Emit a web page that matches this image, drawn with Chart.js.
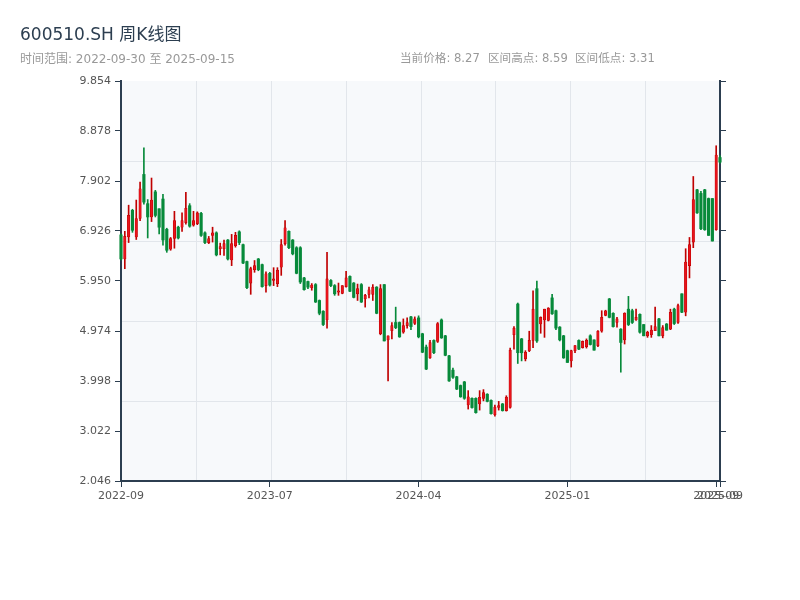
<!DOCTYPE html>
<html><head><meta charset="utf-8">
<script src="https://cdn.jsdelivr.net/npm/chart.js@4.4.0/dist/chart.umd.min.js"></script>
<style>
html,body{margin:0;padding:0;background:#fff;}
#wrap{position:relative;width:800px;height:600px;overflow:hidden;}
canvas{position:absolute;left:0;top:0;}
.t{position:absolute;font-family:"DejaVu Sans","Noto Sans CJK SC",sans-serif;white-space:nowrap;line-height:1;}
.s{font-size:11.6px;color:#999;top:53px;}
</style></head><body>
<div id="wrap">
<canvas id="c" width="800" height="600"></canvas>
<div class="t" style="left:20px;top:26px;font-size:17px;color:#2c3e50;">600510.SH 周K线图</div>
<div class="t" style="left:20px;top:53px;font-size:12px;color:#999;">时间范围: 2022-09-30 至 2025-09-15</div>
<div class="t s" style="left:400px;">当前价格: 8.27</div>
<div class="t s" style="left:488px;">区间高点: 8.59</div>
<div class="t s" style="left:575px;">区间低点: 3.31</div>
</div>
<script>
// weekly OHLC values
const open  = [6.85,6.38,6.81,7.33,6.81,7.17,8.03,7.46,7.20,7.69,7.36,7.55,6.96,6.57,6.78,7.00,7.00,7.09,7.42,7.04,7.07,7.27,6.89,6.70,6.84,6.89,6.58,6.58,6.75,6.36,6.64,6.91,6.66,6.33,5.91,6.17,6.38,6.27,5.86,6.10,5.96,5.90,6.22,6.68,6.92,6.75,6.60,6.60,6.01,5.94,5.82,5.88,5.57,5.36,5.19,5.96,5.86,5.73,5.71,5.84,6.04,5.91,5.70,5.88,5.60,5.69,5.69,5.83,4.92,5.88,4.80,4.98,5.14,5.14,4.95,5.08,5.25,5.12,5.23,4.92,4.66,4.45,4.79,4.77,5.19,4.88,4.49,4.21,4.08,3.91,3.98,3.53,3.66,3.66,3.55,3.66,3.74,3.62,3.34,3.48,3.55,3.42,3.48,4.90,5.50,4.82,4.43,4.59,4.79,5.80,5.11,5.19,5.18,5.62,5.37,5.05,4.88,4.59,4.39,4.59,4.79,4.65,4.67,4.88,4.80,4.69,4.97,5.28,5.60,5.32,5.14,5.01,4.80,5.40,5.37,5.19,5.30,5.10,4.88,4.90,4.98,5.21,4.88,5.11,5.01,5.40,5.14,5.70,5.34,6.25,6.71,7.73,7.66,7.73,7.56,7.56,6.95,8.36];
const high  = [6.87,6.92,7.43,7.35,7.53,7.88,8.55,7.54,7.96,7.72,7.36,7.64,6.98,6.80,7.31,7.02,7.28,7.68,7.46,7.31,7.30,7.29,6.91,6.82,7.00,6.91,6.69,6.75,6.76,6.86,6.90,6.93,6.67,6.34,6.22,6.35,6.39,6.28,6.13,6.12,6.21,6.21,6.76,7.13,6.93,6.76,6.62,6.62,6.02,5.95,5.90,5.90,5.58,5.37,6.51,5.98,5.88,5.91,5.86,6.14,6.05,5.92,5.89,5.90,5.69,5.83,5.88,5.84,5.88,5.88,4.88,5.14,5.44,5.15,5.21,5.23,5.26,5.25,5.27,4.93,4.70,4.79,4.80,5.14,5.21,4.89,4.50,4.25,4.09,3.92,3.99,3.81,3.67,3.67,3.81,3.83,3.75,3.63,3.53,3.60,3.56,3.71,4.64,5.06,5.52,4.83,4.59,4.97,5.76,5.95,5.25,5.40,5.43,5.69,5.38,5.06,4.89,4.60,4.60,4.69,4.80,4.78,4.82,4.90,4.80,4.98,5.37,5.38,5.61,5.33,5.24,5.02,5.33,5.65,5.40,5.40,5.31,5.10,4.97,5.08,5.44,5.22,5.08,5.12,5.40,5.42,5.50,5.70,6.58,6.80,7.99,7.74,7.70,7.74,7.57,7.56,8.59,8.40];
const low   = [6.36,6.19,6.70,6.90,6.76,7.13,7.45,6.79,7.11,7.20,6.87,6.65,6.51,6.55,6.59,6.77,6.92,7.06,7.00,7.02,7.05,6.82,6.68,6.68,6.71,6.44,6.46,6.45,6.36,6.25,6.61,6.66,6.29,5.80,5.69,6.12,6.15,5.83,5.73,5.85,5.86,5.84,6.06,6.65,6.58,6.46,6.09,5.90,5.77,5.80,5.77,5.53,5.29,5.08,5.03,5.84,5.67,5.67,5.70,5.83,5.74,5.62,5.57,5.53,5.44,5.62,5.57,5.31,4.90,4.78,4.00,4.82,5.02,4.85,4.93,5.03,5.00,5.10,4.84,4.55,4.22,4.44,4.53,4.75,4.83,4.49,3.99,4.05,3.83,3.68,3.64,3.45,3.47,3.37,3.43,3.61,3.59,3.35,3.31,3.43,3.41,3.41,3.47,4.62,4.34,4.39,4.39,4.57,4.65,4.75,4.93,4.85,5.17,5.30,5.00,4.78,4.44,4.36,4.27,4.55,4.61,4.64,4.64,4.70,4.60,4.67,4.95,5.27,5.23,5.05,5.05,4.17,4.72,5.08,5.12,5.18,4.93,4.88,4.85,4.85,4.98,4.88,4.84,4.99,5.00,5.10,5.12,5.33,5.27,6.01,6.60,7.27,6.95,6.94,6.84,6.73,6.94,8.25];
const close = [6.38,6.82,7.23,6.94,7.17,7.75,7.49,7.20,7.53,7.23,7.00,6.75,6.55,6.78,7.13,6.79,7.13,7.37,7.02,7.13,7.28,6.84,6.70,6.78,6.89,6.46,6.62,6.68,6.38,6.68,6.84,6.70,6.30,5.82,6.19,6.25,6.17,5.84,6.09,5.87,5.99,6.16,6.66,6.99,6.60,6.48,6.10,5.93,5.78,5.83,5.87,5.54,5.32,5.10,5.99,5.86,5.70,5.76,5.86,6.01,5.75,5.63,5.80,5.54,5.67,5.78,5.83,5.32,5.80,4.78,4.88,5.08,5.04,4.86,5.08,5.14,5.06,5.21,4.86,4.56,4.23,4.75,4.55,5.12,4.84,4.50,4.00,4.07,3.84,3.69,3.66,3.69,3.48,3.38,3.68,3.77,3.60,3.36,3.49,3.52,3.42,3.68,4.60,5.03,4.55,4.55,4.56,4.79,5.40,4.78,5.24,5.40,5.42,5.31,5.03,4.80,4.45,4.36,4.59,4.69,4.62,4.77,4.79,4.71,4.60,4.97,5.24,5.37,5.24,5.06,5.21,4.75,5.32,5.10,5.14,5.24,4.95,4.88,4.95,4.99,5.06,4.88,5.04,4.99,5.34,5.12,5.47,5.34,6.32,6.66,7.54,7.28,6.97,6.95,6.84,6.73,8.41,8.27];
const weeks = open.map((_, i) => i);
const tickIndex = [0, 39, 78, 117, 156, 157];
const tickText  = ['2022-09', '2023-07', '2024-04', '2025-01', '2025-09', '2025-09'];
const yTicks = [2.046, 3.022, 3.998, 4.974, 5.950, 6.926, 7.902, 8.878, 9.854];

const UP_FILL = '#e8141c', UP_LINE = '#c00000', DOWN = '#078a3a';
const isUp = open.map((o, i) => close[i] >= o);

const bgGrid = {
  id: 'bgGrid',
  beforeDraw(chart) {
    const {ctx, chartArea: a} = chart;
    ctx.save();
    ctx.fillStyle = '#f7f9fb';
    ctx.fillRect(a.left, a.top, a.right - a.left, a.bottom - a.top);
    ctx.strokeStyle = '#e2e6eb';
    ctx.lineWidth = 1;
    ctx.beginPath();
    for (let k = 1; k < 8; k++) {
      const x = Math.round(a.left + (a.right - a.left) * k / 8) + 0.5;
      ctx.moveTo(x, a.top); ctx.lineTo(x, a.bottom);
    }
    for (let k = 1; k < 5; k++) {
      const y = Math.round(a.top + (a.bottom - a.top) * k / 5) + 0.5;
      ctx.moveTo(a.left, y); ctx.lineTo(a.right, y);
    }
    ctx.stroke();
    ctx.restore();
  }
};

Chart.defaults.font.family = '"DejaVu Sans","Noto Sans",sans-serif';
const AX = '#2c3e50';
new Chart(document.getElementById('c'), {
  type: 'bar',
  data: {
    labels: weeks,
    datasets: [
      {
        data: open.map((o, i) => [o, close[i]]),
        backgroundColor: isUp.map(u => u ? UP_FILL : DOWN),
        borderColor: isUp.map(u => u ? UP_LINE : DOWN),
        borderWidth: isUp.map(u => u ? 0.6 : 0),
        borderSkipped: false,
        barThickness: 2.5,
        clip: false
      },
      {
        data: low.map((l, i) => [l, high[i]]),
        backgroundColor: isUp.map(u => u ? UP_LINE : DOWN),
        borderWidth: 0,
        barThickness: 1,
        clip: false
      }
    ]
  },
  options: {
    responsive: false,
    animation: false,
    devicePixelRatio: 1,
    layout: {padding: {top: 81, left: 0, right: 0, bottom: 0}},
    datasets: {bar: {grouped: false}},
    plugins: {legend: {display: false}, tooltip: {enabled: false}},
    scales: {
      x: {
        type: 'category',
        offset: false,
        grid: {display: true, drawOnChartArea: false, drawTicks: true, tickLength: 6, color: AX, offset: false},
        border: {display: true, color: AX, width: 2},
        ticks: {autoSkip: false, maxRotation: 0, minRotation: 0, color: '#555', font: {size: 11}, padding: 3,
                callback: (v) => { const k = tickIndex.indexOf(v); return k >= 0 ? tickText[k] : ''; }},
        afterBuildTicks: (s) => { s.ticks = tickIndex.map(v => ({value: v})); },
        afterFit: (s) => { s.height = 119; }
      },
      y: {
        position: 'left',
        min: 2.046, max: 9.854,
        grid: {display: true, drawOnChartArea: false, drawTicks: true, tickLength: 6, color: AX},
        border: {display: true, color: AX, width: 2},
        ticks: {color: '#555', font: {size: 11}, padding: 4, callback: (v) => v.toFixed(3)},
        afterBuildTicks: (s) => { s.ticks = yTicks.map(v => ({value: v})); },
        afterFit: (s) => { s.width = 121; }
      },
      y2: {
        position: 'right',
        min: 2.046, max: 9.854,
        grid: {display: true, drawOnChartArea: false, drawTicks: true, tickLength: 6, color: AX},
        border: {display: true, color: AX, width: 2},
        ticks: {display: false},
        afterBuildTicks: (s) => { s.ticks = yTicks.map(v => ({value: v})); },
        afterFit: (s) => { s.width = 80; }
      }
    }
  },
  plugins: [bgGrid]
});
</script>
</body></html>
